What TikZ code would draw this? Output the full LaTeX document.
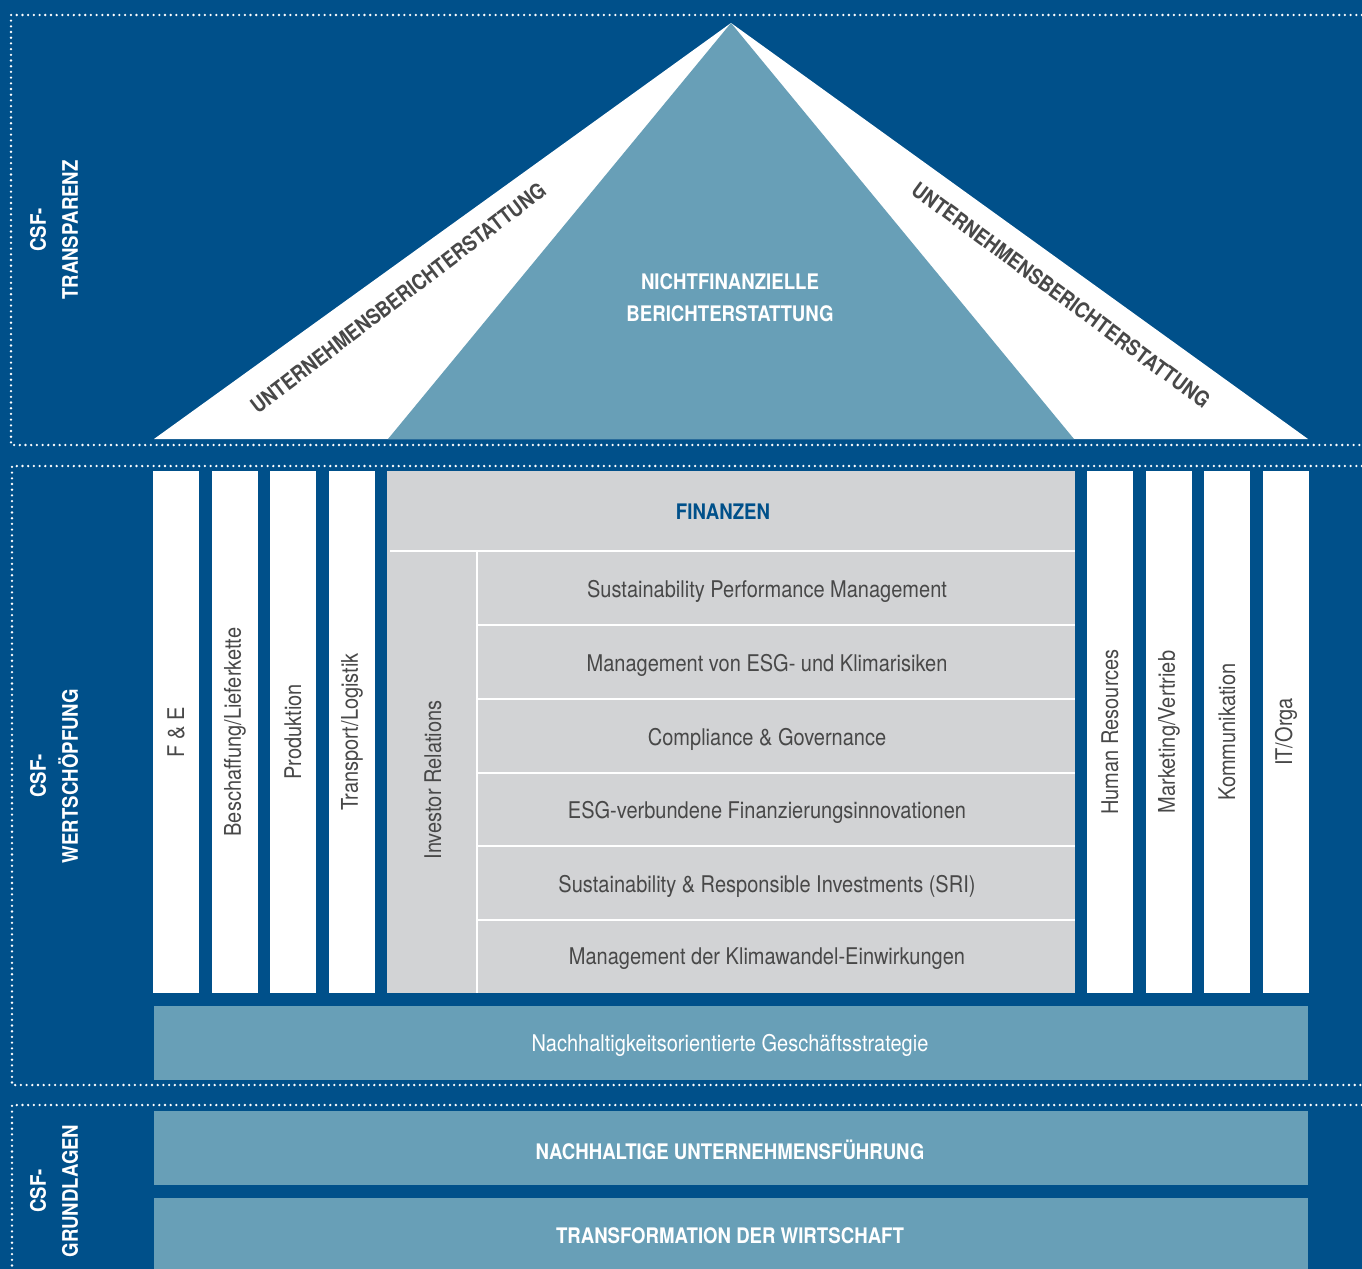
\documentclass[tikz,border=0pt]{standalone}
\usepackage{fontspec}
\setmainfont{TeX Gyre Heros}[FakeStretch=0.87]
\usepackage{tikz}
\usetikzlibrary{positioning}
\definecolor{csfblue}{RGB}{0,80,138}
\definecolor{csflight}{RGB}{104,159,183}
\definecolor{csfgrey}{RGB}{210,211,213}
\definecolor{csftext}{RGB}{72,72,72}

\begin{document}
\begin{tikzpicture}[
	x = 0.5pt, y = -0.5pt,
	every node/.style = {font = \fontsize{11.5}{13}\selectfont, inner sep = 0pt},
	headline/.style = {font = \fontsize{10.7}{16}\selectfont\bfseries, text = white, align = center},
	sidelabel/.style = {headline, rotate = 90},
	roofline/.style = {font = \fontsize{10.7}{13}\selectfont\bfseries, text = csftext},
	pillartext/.style = {text = csftext, rotate = 90},
	celltext/.style = {text = csftext},
	dotline/.style = {white, line width = 1.3pt, dash pattern = on 0pt off 2.85pt, line cap = round},
	sepline/.style = {white, line width = 1pt}
	]

	\fill[csfblue] (0,0) rectangle (1362,1269);
	\useasboundingbox (0,0) rectangle (1362,1269);

	% dotted frames
	\draw[dotline] (1362,15) -- (11,15) -- (11,445) -- (1362,445);
	\draw[dotline] (1362,466) -- (12,466) -- (12,1085) -- (1362,1085);
	\draw[dotline] (1362,1105) -- (12,1105) -- (12,1269);

	\node[sidelabel] (transparenz) at (54,230) {CSF-\\TRANSPARENZ};
	\node[sidelabel] (wertschoepfung) at (54,776) {CSF-\\WERTSCHÖPFUNG};
	\node[sidelabel] (grundlagen) at (54,1191) {CSF-\\GRUNDLAGEN};

	% roof
	\fill[white] (154,439) -- (731,23) -- (1308,439) -- cycle;
	\fill[csflight] (388,439) -- (731,23) -- (1074,439) -- cycle;

	\node[headline] (nichtfin) at (730,298) {NICHTFINANZIELLE\\BERICHTERSTATTUNG};
	\node[roofline, rotate = 37.3] (ubleft) at (398,298) {UNTERNEHMENSBERICHTERSTATTUNG};
	\node[roofline, rotate = -36.4] (ubright) at (1061,295) {UNTERNEHMENSBERICHTERSTATTUNG};

	% pillars
	\foreach \px/\name/\txt in {176/fe/{F \& E}, 235/beschaffung/{Beschaffung/Lieferkette},
		293/produktion/Produktion, 352/transport/{Transport/Logistik},
		1110/hr/{Human Resources}, 1169/marketing/{Marketing/Vertrieb},
		1227/kommunikation/Kommunikation, 1286/itorga/{IT/Orga}}{
		\fill[white] (\px-23,471) rectangle (\px+23,993);
		\node[pillartext] (\name) at (\px,732) {\txt};
	}

	% finance block
	\fill[csfgrey] (387,471) rectangle (1075,993);
	\draw[sepline] (390,551) -- (1075,551);
	\draw[sepline] (477,551) -- (477,993);
	\foreach \y in {625,699,773,846,920}
		\draw[sepline] (477,\y) -- (1075,\y);

	\node[font = \fontsize{10.7}{13}\selectfont\bfseries, text = csfblue] (finanzen) at (723,512) {FINANZEN};
	\node[pillartext] (investor) at (433,780) {Investor Relations};

	\foreach \y/\name/\txt in {591/spm/{Sustainability Performance Management},
		665/esgrisk/{Management von ESG- und Klimarisiken},
		739/compliance/{Compliance \& Governance},
		812/esgfin/{ESG-verbundene Finanzierungsinnovationen},
		886/sri/{Sustainability \& Responsible Investments (SRI)},
		959/klima/{Management der Klimawandel-Einwirkungen}}
		\node[celltext] (\name) at (767,\y) {\txt};

	% foundations
	\fill[csflight] (154,1006) rectangle (1308,1080);
	\fill[csflight] (154,1111) rectangle (1308,1185);
	\fill[csflight] (154,1198) rectangle (1308,1272);

	\node[text = white] (strategie) at (730,1045) {Nachhaltigkeitsorientierte Geschäftsstrategie};
	\node[headline] (fuehrung) at (730,1150) {NACHHALTIGE UNTERNEHMENSFÜHRUNG};
	\node[headline] (transformation) at (730,1236) {TRANSFORMATION DER WIRTSCHAFT};

\end{tikzpicture}
\end{document}
